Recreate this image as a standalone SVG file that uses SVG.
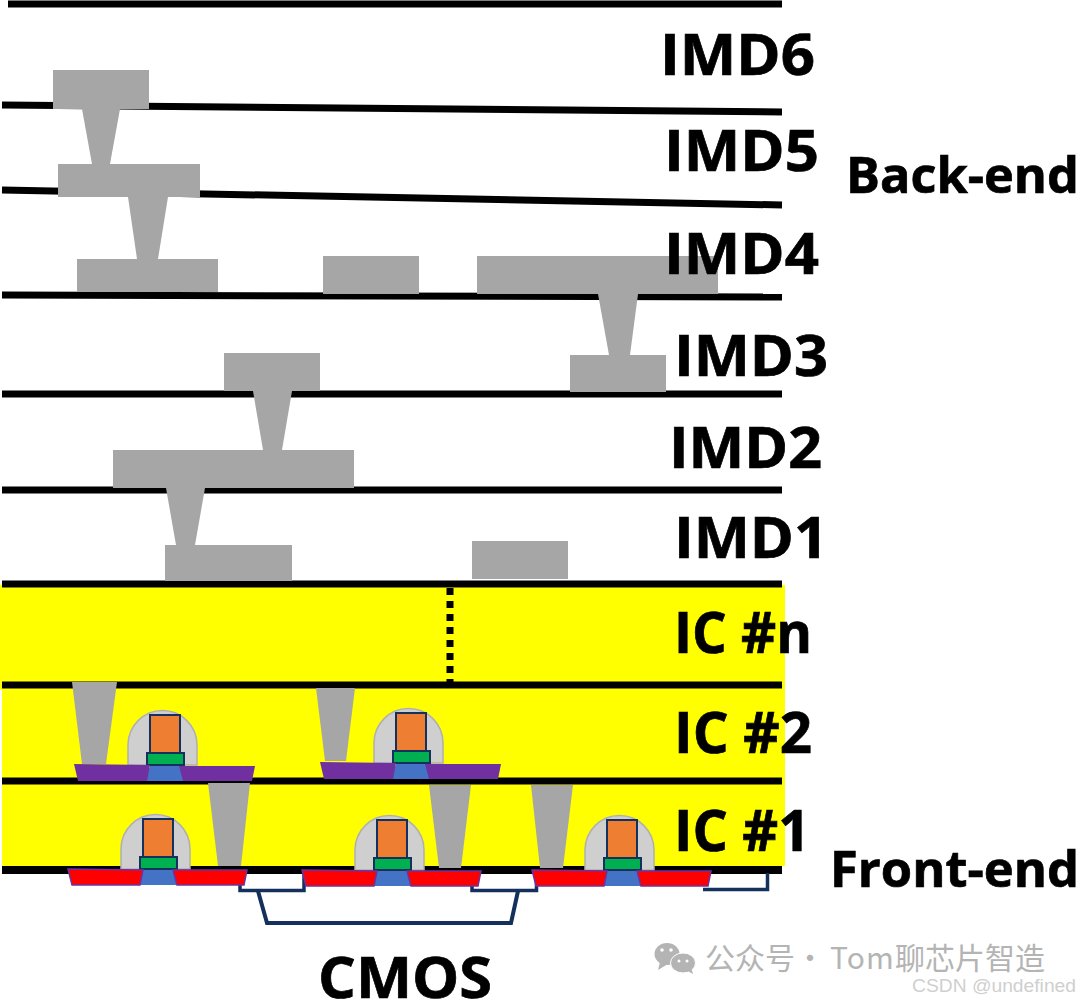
<svg xmlns="http://www.w3.org/2000/svg" width="1080" height="1002" viewBox="0 0 1080 1002">
<style>
.ln{stroke:#000;stroke-width:7;fill:none}
.m{fill:#a5a6a5}
.t{font-family:"Open Sans","Noto Sans",sans-serif;font-weight:700;fill:#000;stroke:#000;stroke-width:.7;font-size:57px}
.s{font-size:51px}
.nv{fill:none;stroke:#14305c;stroke-width:3.5}
.g{stroke:#14305c;stroke-width:2}
.wm{font-family:"Noto Sans CJK SC","Noto Sans",sans-serif;fill:#b4b4b4;font-size:30px}
</style>
<defs>
<g id="gate">
<path d="M128 765V745A34.500 34.500 0 0 1 197 745V765Z" fill="#d0cfd0" stroke="#b0b0b0" stroke-width="1.500"/>
<rect x="150" y="715" width="30" height="38" fill="#ee7e32" class="g"/>
<rect x="147" y="753" width="37" height="12" fill="#00b050" class="g"/>
<path d="M150 766H181L185 781H145Z" fill="#4472c4"/>
</g>
<g id="purple"><use href="#gate"/>
<path d="M74 764L150 765L147 781H78Z" fill="#7030a0"/><path d="M179 766H255L252 781H183Z" fill="#7030a0"/></g>
<g id="red"><use href="#gate"/>
<path d="M75 765L150 766L147 781H79Z" fill="#f00" stroke="#7030a0" stroke-width="1.500"/><path d="M180 766H254L251 781H184Z" fill="#f00" stroke="#7030a0" stroke-width="1.500"/></g>
</defs>
<rect width="1080" height="1002" fill="#fff"/>
<path d="M0 585H785V866H2V690H0Z" fill="#ff0"/>
<g id="connectors">
<path class="ln" d="M8 4H782"/>
<path class="ln" d="M2 105L782 112"/>
<path class="ln" d="M2 190L782 205"/>
<path class="ln" d="M2 295L782 297"/>
<path class="ln" d="M2 394H782"/>
<path class="ln" d="M2 490H782"/>
<path class="ln" d="M2 584H782"/>
<path class="ln" d="M2 685H782"/>
<path class="ln" d="M2 781H782"/>
<path class="ln" style="stroke-width:8" d="M2 870H782"/>
<path class="ln" d="M450 588V682" stroke-dasharray="7 6"/>
</g>
<g id="metal">
<rect class="m" x="53" y="70" width="96" height="39"/><path class="m" d="M82 109H120L110 164H92Z"/>
<rect class="m" x="58" y="164" width="142" height="33"/><path class="m" d="M128 197H168L158 259H137Z"/>
<rect class="m" x="77" y="259" width="141" height="33"/>
<rect class="m" x="323" y="256" width="96" height="38"/>
<rect class="m" x="477" y="256" width="241" height="38"/><path class="m" d="M598 294H638L630 355H609Z"/>
<rect class="m" x="570" y="355" width="96" height="37"/>
<rect class="m" x="224" y="353" width="96" height="38"/><path class="m" d="M253 391H292L282 450H263Z"/>
<rect class="m" x="113" y="450" width="241" height="38"/><path class="m" d="M166 488H205L195 545H176Z"/>
<rect class="m" x="165" y="545" width="127" height="36"/>
<rect class="m" x="472" y="541" width="96" height="38"/>
</g>
<g id="contacts">
<path class="m" d="M72 682H117L106 764H82Z"/>
<path class="m" d="M316 688H355L346 761H325Z"/>
<path class="m" d="M208 783H250L241 866H218Z"/>
<path class="m" d="M429 785H471L461 868H439Z"/>
<path class="m" d="M531 785H573L563 868H540Z"/>
</g>
<g id="ic2-t1"><use href="#purple"/></g>
<g id="ic2-t2"><use href="#purple" transform="translate(246 -2)"/></g>
<g id="isolation">
<path d="M243 874H304V889H243Z" fill="#fff"/><path d="M474 874H537V889H474Z" fill="#fff"/><path d="M705 874H768V889H705Z" fill="#fff"/>
<path class="nv" d="M240 885V890.500H304V873"/>
<path class="nv" d="M472 885V890.500H536.500V873"/>
<path class="nv" d="M703 889.500H767.500V873"/>
<path class="nv" style="stroke-width:4" d="M258 891L267 923H511L518 891"/>
</g>
<g id="ic1-t1"><use href="#red" transform="translate(-7 104)"/></g>
<g id="ic1-t2"><use href="#red" transform="translate(227 105)"/></g>
<g id="ic1-t3"><use href="#red" transform="translate(457 105)"/></g>
<g id="labels">
<text class="t" x="660" y="75" textLength="155" lengthAdjust="spacingAndGlyphs">IMD6</text>
<text class="t" x="664" y="171" textLength="155" lengthAdjust="spacingAndGlyphs">IMD5</text>
<text class="t" x="664" y="274" textLength="155" lengthAdjust="spacingAndGlyphs">IMD4</text>
<text class="t" x="674" y="376" textLength="154" lengthAdjust="spacingAndGlyphs">IMD3</text>
<text class="t" x="669" y="468" textLength="153" lengthAdjust="spacingAndGlyphs">IMD2</text>
<text class="t" x="674" y="558" textLength="154" lengthAdjust="spacingAndGlyphs">IMD1</text>
<text class="t" x="674" y="653" textLength="138" lengthAdjust="spacingAndGlyphs">IC #n</text>
<text class="t" x="674" y="753" textLength="138" lengthAdjust="spacingAndGlyphs">IC #2</text>
<text class="t" x="674" y="851" textLength="136" lengthAdjust="spacingAndGlyphs">IC #1</text>
<text class="t s" x="846" y="193" textLength="233" lengthAdjust="spacingAndGlyphs">Back-end</text>
<text class="t s" x="830" y="887" textLength="249" lengthAdjust="spacingAndGlyphs">Front-end</text>
<text class="t" x="318" y="998" textLength="174" lengthAdjust="spacingAndGlyphs">CMOS</text>
</g>
<g id="watermark">
<ellipse cx="667" cy="954" rx="12.500" ry="11" fill="#b4b4b4"/><path d="M660 962L658 970L668 964Z" fill="#b4b4b4"/>
<circle cx="662" cy="950" r="1.800" fill="#fff"/><circle cx="671" cy="950" r="1.800" fill="#fff"/>
<ellipse cx="683" cy="963" rx="12.500" ry="10" fill="#b4b4b4" stroke="#fff" stroke-width="1"/><path d="M686 970L693 974L691 967Z" fill="#b4b4b4"/>
<circle cx="679" cy="961" r="1.500" fill="#fff"/><circle cx="687" cy="961" r="1.500" fill="#fff"/>
<text class="wm" y="969"><tspan x="705">公众号</tspan><tspan x="795">·</tspan><tspan x="830" letter-spacing="1">Tom</tspan><tspan x="895">聊芯片智造</tspan></text>
<text x="912" y="992" font-family="Liberation Sans, sans-serif" font-size="19" fill="#cfcfcf" textLength="164" lengthAdjust="spacingAndGlyphs">CSDN @undefined</text>
</g>
</svg>
